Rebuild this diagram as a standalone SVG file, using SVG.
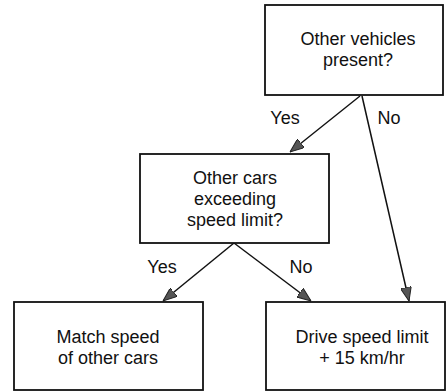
<svg xmlns="http://www.w3.org/2000/svg" width="447" height="392" viewBox="0 0 447 392">
<defs>
<marker id="ah" viewBox="0 0 14 11" refX="14" refY="5.5" markerWidth="14" markerHeight="11" markerUnits="userSpaceOnUse" orient="auto">
<path d="M0,0 L14,5.5 L0,11 Z" fill="#555" stroke="#222" stroke-width="1"/>
</marker>
<style>
.box{fill:#fff;stroke:#111;stroke-width:1.8}
.t{font-family:"Liberation Sans",Arial,sans-serif;font-size:18px;fill:#111;text-anchor:middle}
.c{stroke:#111;stroke-width:1.5;fill:none;marker-end:url(#ah)}
</style>
</defs>
<rect width="447" height="392" fill="#fff"/>
<g id="connectors">
<line class="c" x1="360" y1="96" x2="290" y2="152"/>
<line class="c" x1="362" y1="96" x2="409" y2="301"/>
<line class="c" x1="234" y1="243" x2="163" y2="301"/>
<line class="c" x1="234" y1="243" x2="311" y2="301"/>
<text class="t" x="285" y="124">Yes</text>
<text class="t" x="389" y="124">No</text>
<text class="t" x="162" y="273">Yes</text>
<text class="t" x="301" y="273">No</text>
</g>
<g id="n1">
<rect class="box" x="265" y="5" width="178" height="90"/>
<text class="t" x="358" y="45">Other vehicles</text>
<text class="t" x="358" y="66">present?</text>
</g>
<g id="n2">
<rect class="box" x="140" y="154" width="189" height="89"/>
<text class="t" x="235" y="184">Other cars</text>
<text class="t" x="235" y="205">exceeding</text>
<text class="t" x="235" y="226">speed limit?</text>
</g>
<g id="n3">
<rect class="box" x="14" y="302" width="189" height="88"/>
<text class="t" x="108" y="343">Match speed</text>
<text class="t" x="108" y="364">of other cars</text>
</g>
<g id="n4">
<rect class="box" x="266" y="302" width="179" height="88"/>
<text class="t" x="362" y="343">Drive speed limit</text>
<text class="t" x="362" y="364">+ 15 km/hr</text>
</g>
</svg>
